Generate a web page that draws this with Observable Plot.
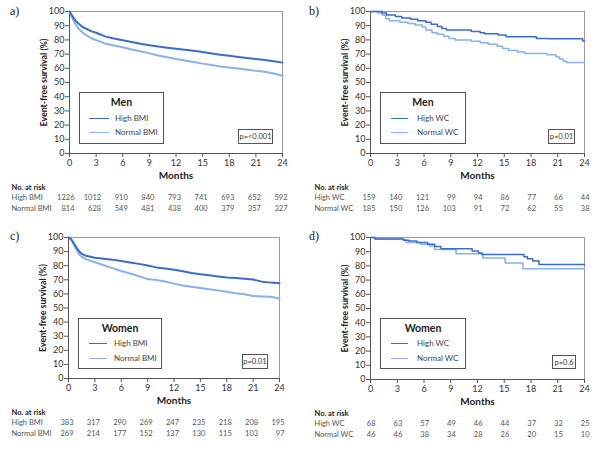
<!DOCTYPE html>
<html><head><meta charset="utf-8">
<script src="https://cdn.jsdelivr.net/npm/d3@7"></script>
<script src="https://cdn.jsdelivr.net/npm/@observablehq/plot@0.6"></script>
<style>
body{margin:0;background:#fff;}
#wrap{position:relative;width:600px;height:451px;overflow:hidden;font-family:Lato,"Open Sans",sans-serif;color:#333;}
.panel{position:absolute;}
.panel svg{overflow:visible;}
.plab{position:absolute;font-family:"Liberation Serif",serif;font-size:12px;color:#222;}
.leg{position:absolute;border:1px solid #555;box-sizing:border-box;background:#fff;}
.leg .t{position:absolute;left:0;right:0;text-align:center;font-weight:bold;font-size:10.5px;color:#222;}
.leg .s{position:absolute;height:0;border-top:1.8px solid;}
.leg .l{position:absolute;font-size:8px;color:#444;line-height:10px;}
.pbox{position:absolute;border:1px solid #555;box-sizing:border-box;background:#fff;font-size:7.5px;color:#333;text-align:center;line-height:13px;}
</style></head>
<body><div id="wrap"></div>
<script>
// ---- data ----
const months = [0,3,6,9,12,15,18,21,24];
const yTicks = [0,10,20,30,40,50,60,70,80,90,100];
const yLabel = "Event-free survival (%)";

// a) Men, BMI
const aHighBMI = [[0,100],[0.25,97.5],[0.5,95],[0.75,93],[1,91.5],[1.5,89],[2,87.5],[2.5,86],[3,85],[4,82.5],[5,81],[6,79.8],[7,78.5],[8,77.3],[9,76.3],[10,75.3],[11,74.5],[12,73.8],[13,73],[14,72.3],[15,71.5],[16,70.5],[17,69.6],[18,68.8],[19,68],[20,67.3],[21,66.6],[22,65.8],[23,65],[24,64]];
const aNormalBMI = [[0,100],[0.25,96.5],[0.5,93],[0.75,90.5],[1,88],[1.5,85],[2,82.8],[2.5,81],[3,79.8],[4,77.5],[5,76],[6,74.8],[7,73.3],[8,72],[9,70.5],[10,69],[11,67.8],[12,66.5],[13,65.5],[14,64.5],[15,63.3],[16,62.3],[17,61.3],[18,60.5],[19,59.8],[20,59],[21,58.3],[22,57.5],[23,56.3],[24,54.8]];
const aRiskHigh = [1226,1012,910,840,793,741,693,652,592];
const aRiskNormal = [814,628,549,481,438,400,379,357,327];

// b) Men, WC
const bHighWC = [[0,100],[1.3,99],[1.8,97.5],[2.8,96.5],[3.5,95.5],[4.5,94.5],[5.3,93.5],[6.2,92.5],[6.8,91],[7.5,89.5],[8,88],[8.5,87],[11.3,86],[12.3,85],[12.8,84.3],[14.3,83.5],[15.2,82.3],[18.6,81],[20,80.8],[23.8,79.3],[24,79.3]];
const bNormalWC = [[0,100],[0.8,99],[1.3,97.5],[1.7,95],[2.1,93.5],[3.3,92.5],[4.2,91.5],[5,90.5],[5.8,89],[6.2,87],[6.9,85],[7.5,84],[8.2,82.5],[8.8,81],[9.5,80],[11.3,79],[12.3,78],[13.2,77],[14.2,75.5],[14.8,74],[15.5,72.5],[16.5,71.5],[17.3,70.5],[19.8,69.5],[20.8,68],[21.2,66.5],[21.6,65],[22,64],[24,63.5]];
const bRiskHigh = [159,140,121,99,94,86,77,66,44];
const bRiskNormal = [185,150,126,103,91,72,62,55,38];

// c) Women, BMI
const cHighBMI = [[0,100],[0.25,99],[0.5,97],[0.75,94.5],[1,92],[1.25,90],[1.5,88.5],[2,87],[3,85.7],[4,85],[5,84.3],[6,83.3],[7,82.3],[8,81.3],[9,80.2],[10,78.8],[11,78],[12,77.2],[13,76],[14,74.8],[15,74],[16,73.2],[17,72.4],[18,71.6],[19,71.2],[20,70.7],[21,70.2],[22,68.7],[23,68],[24,67.6]];
const cNormalBMI = [[0,100],[0.25,99],[0.5,96],[0.75,93],[1,90.5],[1.25,88],[1.5,86.5],[2,84.5],[3,82.5],[4,80.3],[5,78.3],[6,76.2],[7,74.5],[8,72.5],[9,70.5],[10,69.8],[11,68.8],[12,67.3],[13,66],[14,65],[15,64.2],[16,63.3],[17,62.5],[18,61.5],[19,60.5],[20,59.7],[21,58.5],[22,58.2],[23,58],[24,56.8]];
const cRiskHigh = [383,317,290,269,247,235,218,208,195];
const cRiskNormal = [269,214,177,152,137,130,115,103,97];

// d) Women, WC
const dHighWC = [[0,100],[0.5,99],[3.7,98],[4.3,97.5],[5.2,96.5],[6.4,95.3],[7.2,93.7],[7.9,92],[11.4,90.5],[12.1,89],[12.5,88],[17.2,86.5],[17.6,85],[18.2,83.5],[18.9,81],[24,81]];
const dNormalWC = [[0,100],[0.5,99],[3.6,98.4],[4.0,96.5],[5.6,95.3],[6.6,94],[7.2,91.5],[9.6,88.5],[12.6,85.5],[15.1,82],[17.1,78],[24,78]];
const dRiskHigh = [68,63,57,49,46,44,37,32,25];
const dRiskNormal = [46,46,38,34,28,26,20,15,10];

const DARK = "#3a6cc8";
const LIGHT = "#86b2ef";

const panels = [
  {id:"a", left:0, top:0, ml:69, mr:18, mt:11, mb:72, curve:"linear", sw:2, high:aHighBMI, normal:aNormalBMI,
   rh:aRiskHigh, rn:aRiskNormal, names:["High BMI","Normal BMI"], group:"Men", p:"p=<0.001", rowX:11,
   leg:{l:79,t:92,w:85,h:52,sx:9,sw:20,tx:35,r1:25,r2:39}, pb:{l:238,t:129,w:35,h:15}},
  {id:"b", left:300, top:0, ml:70, mr:16, mt:11, mb:72, curve:"step-after", sw:1.5, high:bHighWC, normal:bNormalWC,
   rh:bRiskHigh, rn:bRiskNormal, names:["High WC","Normal WC"], group:"Men", p:"p=0.01", rowX:14,
   leg:{l:380,t:92,w:86,h:52,sx:10,sw:17,tx:36,r1:25,r2:39}, pb:{l:548,t:129,w:27,h:15}},
  {id:"c", left:0, top:225, ml:68, mr:21, mt:12, mb:72, curve:"linear", sw:2, high:cHighBMI, normal:cNormalBMI,
   rh:cRiskHigh, rn:cRiskNormal, names:["High BMI","Normal BMI"], group:"Women", p:"p=0.01", rowX:11,
   leg:{l:78,t:318,w:84,h:51,sx:10,sw:18,tx:35,r1:24,r2:39}, pb:{l:242,t:354,w:26,h:15}},
  {id:"d", left:300, top:225, ml:70, mr:16, mt:12, mb:71, curve:"step-after", sw:1.5, high:dHighWC, normal:dNormalWC,
   rh:dRiskHigh, rn:dRiskNormal, names:["High WC","Normal WC"], group:"Women", p:"p=0.6", rowX:14,
   leg:{l:380,t:318,w:86,h:51,sx:10,sw:17,tx:36,r1:24,r2:39}, pb:{l:552,t:355,w:24,h:14}}
];

const wrap = document.getElementById("wrap");
const FS = 7.5; // table font size

function makePlot(o){
  const rowsH = months.map((m,i)=>({m, n:String(o.rh[i])}));
  const rowsN = months.map((m,i)=>({m, n:String(o.rn[i])}));
  const lx = o.rowX - o.ml;
  const svg = Plot.plot({
    width:300, height:225,
    marginLeft:o.ml, marginRight:o.mr, marginTop:o.mt, marginBottom:o.mb,
    style:{fontFamily:"Lato, 'Open Sans', sans-serif", fontSize:"9px", color:"#333", background:"transparent", overflow:"visible"},
    x:{domain:[0,24]},
    y:{domain:[0,100]},
    marks:[
      Plot.frame({stroke:"#9a9a9a"}),
      Plot.axisX({ticks:months, tickSize:4, tickPadding:2, label:null, fontSize:9, stroke:"#555"}),
      Plot.axisY({ticks:yTicks, tickSize:4, tickPadding:1, label:null, fontSize:9, stroke:"#555"}),
      Plot.ruleX([0],{stroke:"#555"}),
      Plot.ruleY([0],{stroke:"#555"}),
      Plot.line(o.normal,{x:d=>d[0], y:d=>d[1], stroke:LIGHT, strokeWidth:o.sw, curve:o.curve}),
      Plot.line(o.high,{x:d=>d[0], y:d=>d[1], stroke:DARK, strokeWidth:o.sw, curve:o.curve}),
      Plot.text([yLabel],{frameAnchor:"left", textAnchor:"middle", rotate:-90, dx:-26, text:d=>d, fontWeight:"bold", fontSize:9.5, fill:"#222"}),
      Plot.text(["Months"],{frameAnchor:"bottom", textAnchor:"middle", dy:25, text:d=>d, fontWeight:"bold", fontSize:10, fill:"#222"}),
      Plot.text(["No. at risk"],{frameAnchor:"bottom-left", dx:lx, dy:36, textAnchor:"start", text:d=>d, fontWeight:"bold", fontSize:FS, fill:"#222"}),
      Plot.text([o.names[0]],{frameAnchor:"bottom-left", dx:lx, dy:46, textAnchor:"start", text:d=>d, fontSize:FS, fill:"#555"}),
      Plot.text([o.names[1]],{frameAnchor:"bottom-left", dx:lx, dy:57, textAnchor:"start", text:d=>d, fontSize:FS, fill:"#555"}),
      Plot.text(rowsH,{x:"m", text:"n", frameAnchor:"bottom", dy:46, dx:5, textAnchor:"end", fontSize:FS, fill:"#555"}),
      Plot.text(rowsN,{x:"m", text:"n", frameAnchor:"bottom", dy:57, dx:5, textAnchor:"end", fontSize:FS, fill:"#555"})
    ]
  });
  // condense the y label to the narrow width of the original typeface
  svg.querySelectorAll("text").forEach(t => {
    if (t.textContent === yLabel) {
      t.setAttribute("textLength", "88");
      t.setAttribute("lengthAdjust", "spacingAndGlyphs");
    }
  });
  return svg;
}

for (const o of panels){
  const div = document.createElement("div");
  div.className = "panel";
  div.style.left = o.left+"px"; div.style.top = o.top+"px";
  div.appendChild(makePlot(o));
  wrap.appendChild(div);

  const lab = document.createElement("div");
  lab.className = "plab";
  lab.style.left = (o.left + (o.left ? 9 : 10))+"px";
  lab.style.top = (o.top + 4)+"px";
  lab.textContent = o.id + ")";
  wrap.appendChild(lab);

  const L = o.leg;
  const leg = document.createElement("div");
  leg.className = "leg";
  Object.assign(leg.style,{left:L.l+"px", top:L.t+"px", width:L.w+"px", height:L.h+"px"});
  leg.innerHTML =
    `<div class="t" style="top:3px">${o.group}</div>`+
    `<div class="s" style="left:${L.sx}px;width:${L.sw}px;top:${L.r1}px;border-color:${DARK}"></div>`+
    `<div class="l" style="left:${L.tx}px;top:${L.r1-5}px">${o.names[0]}</div>`+
    `<div class="s" style="left:${L.sx}px;width:${L.sw}px;top:${L.r2}px;border-color:${LIGHT}"></div>`+
    `<div class="l" style="left:${L.tx}px;top:${L.r2-5}px">${o.names[1]}</div>`;
  wrap.appendChild(leg);

  const P = o.pb;
  const pb = document.createElement("div");
  pb.className = "pbox";
  Object.assign(pb.style,{left:P.l+"px", top:P.t+"px", width:P.w+"px", height:P.h+"px"});
  pb.textContent = o.p;
  wrap.appendChild(pb);
}
</script>
</body></html>
